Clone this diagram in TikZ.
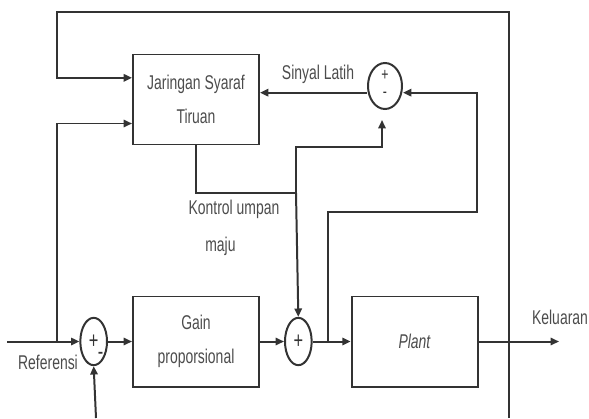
\documentclass[tikz,border=0pt]{standalone}
\usepackage{fontspec}
\setmainfont[FakeStretch=0.7]{Liberation Sans}
\usetikzlibrary{positioning,arrows.meta,shapes.geometric}
\newcommand{\blocktext}{\fontsize{17}{29}\selectfont}
\newcommand{\signtext}{\fontsize{20}{17}\selectfont}
\newcommand{\smallsign}{\fontsize{15}{15}\selectfont}
\tikzset{
  block/.style={
    draw=black!80, line width=1.7pt, align=center,
    minimum width=3.78cm, minimum height=2.7cm, text=black!70, font=\blocktext,
  },
  sum/.style={
    draw=black!80, line width=1.7pt, ellipse, inner sep=0pt,
    minimum width=0.8cm, minimum height=1.42cm, text=black!80, font=\signtext, align=center,
  },
  sign/.style={font=\signtext, text=black!80, inner sep=0pt, text height=0.6em, text depth=0pt},
  flow/.style={-{Triangle[length=0.25cm,width=0.22cm]}, line width=1.7pt, draw=black!80},
  wire/.style={line width=1.7pt, draw=black!80},
  lbl/.style={font=\blocktext, text=black!70, inner sep=0pt},
}

\begin{document}
\begin{tikzpicture}[x=0.03cm, y=-0.03cm, node distance=0.72cm]
\useasboundingbox (0,0) rectangle (589,418);

% ---- main chain -----------------------------------------------------------
\node[block] (gain) at (196,341.5) {Gain\\proporsional};
\node[sum, left=of gain]        (sum1)  {+};
\node[sum, right=of gain]       (sum2)  {+};
\node[block, right=1.14cm of sum2] (plant) {\textit{Plant}};
\node[block, above=4.5cm of gain]  (jst)   {Jaringan Syaraf\\Tiruan};
\node[sum, minimum width=1.02cm, minimum height=1.38cm] (err) at (385,86) {};
\node[sign, font=\smallsign] (plusE)  at ([yshift=0.27cm]err.center) {+};
\node[sign, font=\smallsign] (minusE) at ([yshift=-0.25cm]err.center) {-};
\node[sign] (minus1) at ([shift={(7,14)}]sum1.center) {-};

% ---- free ends -------------------------------------------------------------
\coordinate (in)    at (7,341.5);
\coordinate (out)   at (559,341.5);
\coordinate (fbbot) at (509,418);
\coordinate (fbin)  at (96,418);
\coordinate (ret)   at (57,12);
\coordinate (tap)   at (57,341.5);
\coordinate (tap2)  at (328,341.5);
\coordinate (loop)  at (477,212);
\coordinate (fork)  at (296,193);
\coordinate (up)    at (296,147);

% ---- forward path ------------------------------------------------------------
\draw[flow] (in)   -- (sum1);
\draw[flow] (sum1) -- (gain);
\draw[flow] (gain) -- (sum2);
\draw[flow] (sum2) -- (plant);
\draw[flow] (plant) -- (out);
\draw[flow] (fbin) -- (sum1.south);

% ---- network inputs ------------------------------------------------------------
\draw[flow] (fbbot) |- (ret) |- ([yshift=0.65cm]jst.west);
\draw[flow] (tap) |- ([yshift=-0.72cm]jst.west);

% ---- network output and training signal ------------------------------------------
\draw[wire] (jst.south) |- (fork);
\draw[flow] (fork) -- (sum2.north);
\draw[flow, shorten >=0.3cm] (fork) -- (up) -| ([xshift=-0.09cm]err.south);
\draw[flow] (tap2) |- (loop) |- ([yshift=-0.2cm]err.east);
\draw[flow] ([yshift=-0.2cm]err.west) -- ([yshift=-0.2cm]err.west -| jst.east);

% ---- labels ----------------------------------------------------------------
\node[lbl] (ref)  at (48,362)  {Referensi};
\node[lbl] (keluar) at (560,317) {Keluaran};
\node[lbl] (latih) at (318,74) {Sinyal Latih};
\node[lbl, align=left, font=\fontsize{17}{31}\selectfont] (ff) at (234,228) {Kontrol umpan\\\hspace*{0.5cm}maju};

\end{tikzpicture}
\end{document}
